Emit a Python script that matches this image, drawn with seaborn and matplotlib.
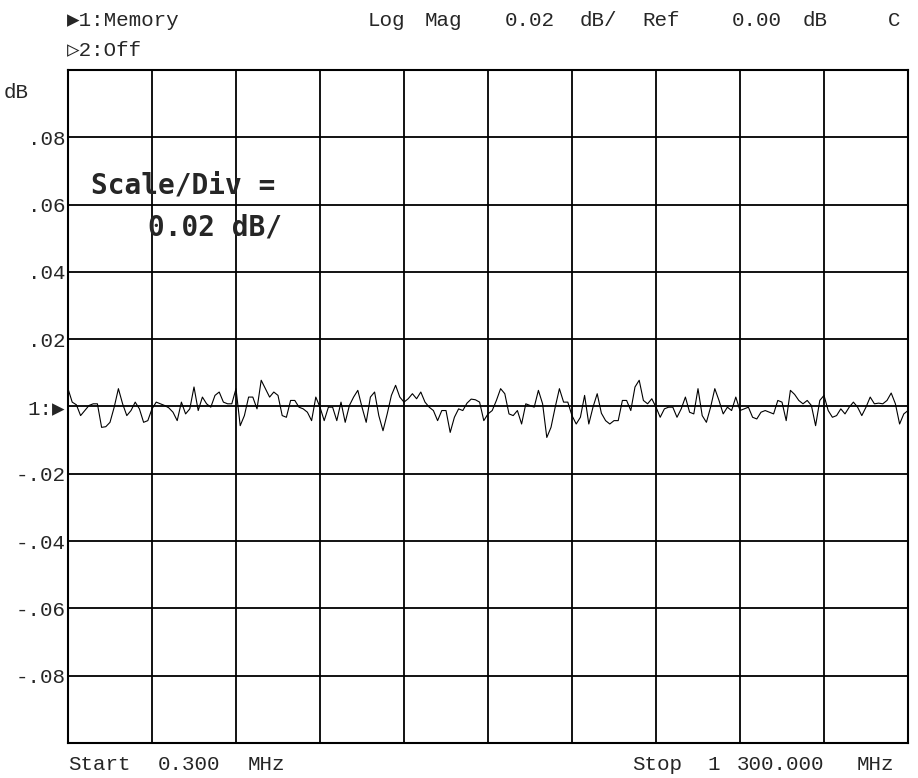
import numpy as np
import pandas as pd
import matplotlib
matplotlib.use("Agg")
import matplotlib.pyplot as plt
import seaborn as sns

# Sweep settings (MHz) and trace values (milli-dB)
start_mhz = 0.3
stop_mhz = 1300.0
n_points = 201

trace_mdb_1 = [5.3, 1.3, 0.5, -2.7, -1.2, 0.3, 0.8, 0.8, -6.2, -6.0, -4.7, -0.2, 5.3,
               0.8, -2.7, -1.2, 1.3, -0.7, -4.7, -4.2, -0.7, 1.3, 0.8, 0.3, -0.4, -1.7,
               -4.2, 1.3, -2.2, -0.7, 5.8, -1.2, 2.8]
trace_mdb_2 = [0.8, -0.2, 3.3, 4.3, 1.3, 0.8, 0.8, 5.3, -5.7, -2.7, 2.8, 2.8, -0.7,
               7.8, 5.3, 2.8, 4.3, 3.3, -2.7, -3.2, 1.8, 1.8, -0.2, -0.7, -1.7, -4.2,
               2.8, -0.2, -4.2, -0.2, -0.2, -4.2, 1.3]
trace_mdb_3 = [-4.7, 0.3, 2.8, 4.8, -0.2, -4.7, 2.8, 4.3, -2.7, -7.2, -2.2, 3.3, 6.3,
               2.8, 1.3, 2.3, 3.8, 2.3, 4.3, 1.3, -0.2, -1.2, -4.2, -1.2, -1.2, -7.7,
               -3.2, -0.7, -1.2, 1.0, 2.2, 2.0, 1.3, -4.2]
trace_mdb_4 = [-2.2, -1.2, 1.8, 5.3, 3.8, -2.2, -2.7, -1.2, -5.2, 0.8, 0.3, -0.2, 4.8,
               0.8, -9.2, -6.2, -0.2, 5.3, 1.3, 1.3, -2.7, -5.2, -3.2, 3.3, -5.2, -0.2,
               3.8, -2.0, -4.2, -5.2, -4.2, -4.2, 1.8]
trace_mdb_5 = [1.8, -1.2, 5.8, 7.8, 1.8, 0.8, 2.3, -0.2, -3.2, -0.7, -0.2, -0.2, -3.2,
               -0.7, 2.8, -1.7, -2.2, 5.3, -2.7, -4.7, -0.2, 5.3, 1.8, -2.2, -0.2, -1.2,
               2.8, -1.2, -0.7, -0.2, -3.2, -3.7, -1.7]
trace_mdb_6 = [-1.2, -1.7, -2.2, 1.8, 1.3, -4.2, 4.8, 3.6, 1.8, 0.8, 1.8, 0.3, -5.7,
               1.8, 3.3, -1.2, -3.2, -2.7, -0.7, -2.2, -0.2, 1.3, -0.2, -2.7, -0.2, 2.8,
               0.8, 1.0, 0.8, 1.8, 4.0, 0.8, -5.2, -2.2, -1.2]

y_ticks = [0.08, 0.06, 0.04, 0.02, 0.0, -0.02, -0.04, -0.06, -0.08]
y_labels = [".08", ".06", ".04", ".02", "1:\u25b6", "-.02", "-.04", "-.06", "-.08"]

trace_mdb = (trace_mdb_1 + trace_mdb_2 + trace_mdb_3 + trace_mdb_4
             + trace_mdb_5 + trace_mdb_6)
df = pd.DataFrame({
    "freq": np.linspace(start_mhz, stop_mhz, n_points),
    "mag": np.array(trace_mdb) / 1000.0,
})

sns.set_style("white")
mono = ["Liberation Mono", "DejaVu Sans Mono"]
plt.rcParams["font.family"] = mono

W, H = 918, 778
fig = plt.figure(figsize=(W / 100, H / 100), dpi=100)
ax = fig.add_axes([68 / W, (H - 743) / H, 840 / W, 673 / H])

sns.lineplot(data=df, x="freq", y="mag", ax=ax, color="black", linewidth=0.8)

ax.set_xlim(start_mhz, stop_mhz)
ax.set_ylim(-0.1, 0.1)
ax.set_xticks(np.linspace(start_mhz, stop_mhz, 11))
ax.set_xticklabels([])
ax.set_yticks(y_ticks)
ax.set_yticklabels(y_labels, fontsize=15, family=mono)
ax.tick_params(length=0, pad=2)
ax.grid(True, color="black", linewidth=1.3)
for s in ax.spines.values():
    s.set_color("black")
    s.set_linewidth(1.5)
ax.set_xlabel("")
ax.set_ylabel("")


def ftext(x, y, s, size=15, **kw):
    fig.text(x / W, 1 - y / H, s, va="center", fontsize=size, **kw)


# header, one word at a time on the screen's character grid
ftext(67, 20, "\u25b61:Memory")
ftext(67, 50, "\u25b72:Off")
ftext(368, 20, "Log")
ftext(425, 20, "Mag")
ftext(505, 20, "0.02")
ftext(580, 20, "dB/")
ftext(642, 20, "Ref")
ftext(732, 20, "0.00")
ftext(803, 20, "dB")
ftext(888, 20, "C")
ftext(4, 92, "dB")

# footer
ftext(68, 765, "Start")
ftext(158, 765, "0.300")
ftext(248, 765, "MHz")
ftext(632, 765, "Stop")
ftext(707, 765, "1")
ftext(737, 765, "300.000")
ftext(857, 765, "MHz")

ftext(91, 186, "Scale/Div =", size=20, fontweight="bold",
      family=["DejaVu Sans Mono"])
ftext(148, 228, "0.02 dB/", size=20, fontweight="bold",
      family=["DejaVu Sans Mono"])

fig.savefig("out.png", dpi=100, facecolor="white")
